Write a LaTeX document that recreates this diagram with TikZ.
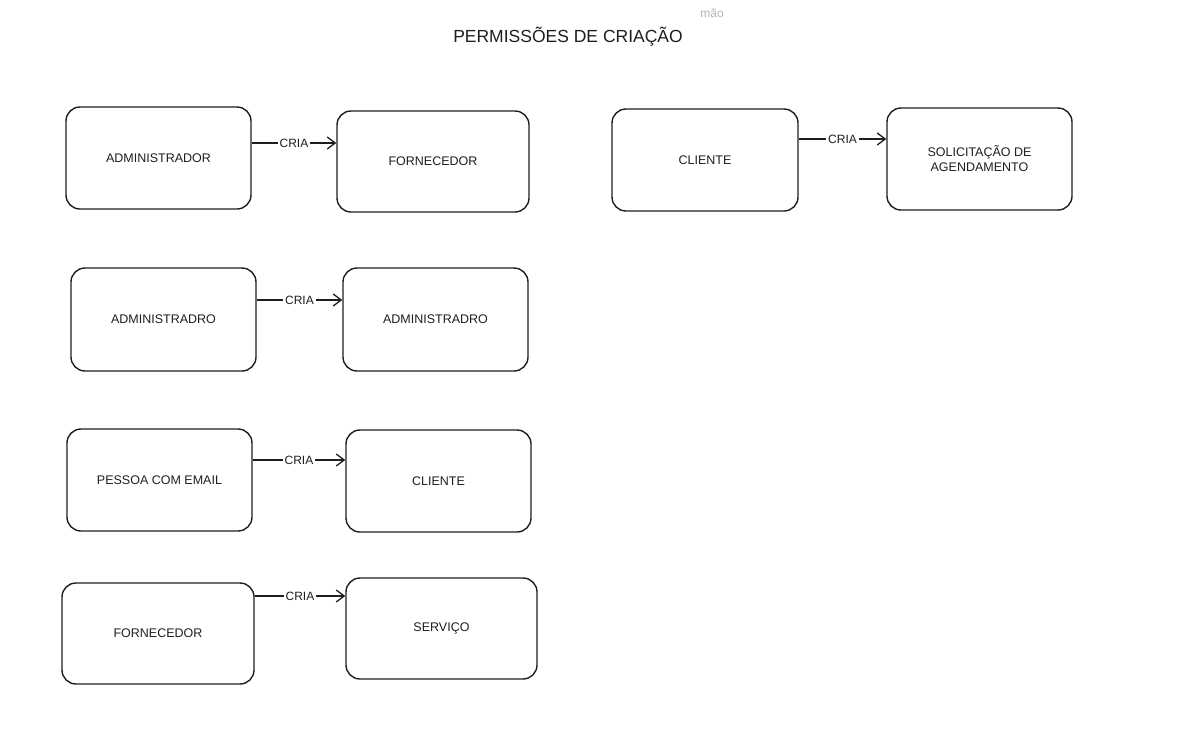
\documentclass[tikz,border=0pt]{standalone}
\usepackage{fontspec}
\setmainfont{Liberation Sans}
\usetikzlibrary{arrows.meta}

\definecolor{traco}{HTML}{1E1E1E}
\definecolor{cinza}{HTML}{B4B4B4}

\tikzset{
  caixa/.style={draw=traco, line width=1.4pt, rounded corners=14pt,
    minimum width=186pt, minimum height=102pt, align=center,
    text=traco, font=\fontsize{12.5}{15}\selectfont},
  seta/.style={draw=traco, line width=1.3pt,
    -{Straight Barb[length=8pt,width=12pt]}},
  rotulo/.style={fill=white, inner sep=2pt, text=traco,
    font=\fontsize{12}{14}\selectfont}
}

\begin{document}
\begin{tikzpicture}[x=1pt, y=-1pt]

  % Moldura
  \useasboundingbox (0,0) rectangle (1183,729);

  % Titulo
  \node[text=cinza, font=\fontsize{12}{14}\selectfont] (resto) at (712,13) {mão};
  \node[text=traco, font=\fontsize{17.5}{20}\selectfont] (titulo) at (568,37) {PERMISSÕES DE CRIAÇÃO};

  % Primeira linha
  \node[caixa, minimum width=185pt] (adm1) at (158.5,158) {ADMINISTRADOR};
  \node[caixa, minimum width=192pt, minimum height=101pt] (forn1) at (433,161.5) {FORNECEDOR};
  \node[caixa] (cli1) at (705,160) {CLIENTE};
  \node[caixa, minimum width=185pt] (sol) at (979.5,159) {SOLICITAÇÃO DE\\AGENDAMENTO};

  % Segunda linha
  \node[caixa, minimum width=185pt, minimum height=103pt] (adm2) at (163.5,319.5) {ADMINISTRADRO};
  \node[caixa, minimum width=185pt, minimum height=103pt] (adm3) at (435.5,319.5) {ADMINISTRADRO};

  % Terceira linha
  \node[caixa, minimum width=185pt] (pes) at (159.5,480) {PESSOA COM EMAIL};
  \node[caixa, minimum width=185pt] (cli2) at (438.5,481) {CLIENTE};

  % Quarta linha
  \node[caixa, minimum width=192pt, minimum height=101pt] (forn2) at (158,633.5) {FORNECEDOR};
  \node[caixa, minimum width=191pt, minimum height=101pt] (serv) at (441.5,628.5) {SERVIÇO};

  % Setas "cria"
  \draw[seta] ([yshift=15pt]adm1.east) -- node[rotulo] {CRIA}
    ([yshift=15pt]adm1.east -| forn1.west);
  \draw[seta] ([yshift=21pt]cli1.east) -- node[rotulo] {CRIA}
    ([yshift=21pt]cli1.east -| sol.west);
  \draw[seta] ([yshift=19.5pt]adm2.east) -- node[rotulo] {CRIA}
    ([yshift=19.5pt]adm2.east -| adm3.west);
  \draw[seta] ([yshift=20pt]pes.east) -- node[rotulo] {CRIA}
    ([yshift=20pt]pes.east -| cli2.west);
  \draw[seta] ([yshift=37.5pt]forn2.east) -- node[rotulo] {CRIA}
    ([yshift=37.5pt]forn2.east -| serv.west);

\end{tikzpicture}
\end{document}
